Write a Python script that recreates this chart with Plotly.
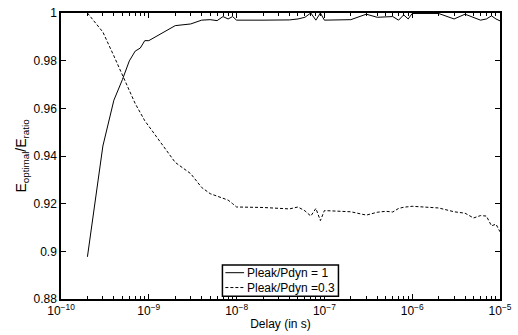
import plotly.graph_objects as go

# Delay values (s)
delay = [2e-10, 3e-10, 4e-10, 5e-10, 6e-10, 7e-10, 8e-10, 9e-10,
         1e-9, 2e-9, 3e-9, 4e-9, 5e-9, 6e-9, 7e-9, 8e-9, 9e-9,
         1e-8, 2e-8, 3e-8, 4e-8, 5e-8, 6e-8, 7e-8, 8e-8, 9e-8,
         1e-7, 2e-7, 3e-7, 4e-7, 5e-7, 6e-7, 7e-7, 8e-7, 9e-7,
         1e-6, 2e-6, 3e-6, 4e-6, 5e-6, 6e-6, 7e-6, 8e-6, 9e-6, 1e-5]

# Pleak/Pdyn = 1
ratio_1 = [0.8977, 0.9442, 0.9634, 0.9720, 0.9799, 0.9840, 0.9853, 0.9884,
           0.9884, 0.9947, 0.9954, 0.9970, 0.9972, 0.9968, 0.9985, 0.9975, 0.9985,
           0.9970, 0.9970, 0.9970, 0.9971, 0.9975, 0.9982, 1.0000, 0.9970, 1.0000,
           0.9970, 0.9972, 0.9995, 0.9982, 0.9982, 0.9985, 0.9970, 0.9992, 0.9975,
           0.9998, 0.9998, 0.9975, 0.9995, 0.9982, 0.9970, 0.9975, 0.9988, 0.9975, 0.9967]

# Pleak/Pdyn = 0.3
ratio_03 = [1.0000, 0.9920, 0.9820, 0.9737, 0.9675, 0.9620, 0.9580, 0.9548,
            0.9525, 0.9373, 0.9326, 0.9268, 0.9242, 0.9231, 0.9223, 0.9215, 0.9200,
            0.9186, 0.9184, 0.9182, 0.9178, 0.9186, 0.9170, 0.9148, 0.9180, 0.9129,
            0.9171, 0.9166, 0.9152, 0.9164, 0.9168, 0.9165, 0.9180, 0.9185, 0.9187,
            0.9189, 0.9182, 0.9166, 0.9160, 0.9140, 0.9150, 0.9148, 0.9107, 0.9114, 0.9082]

series_names = ["Pleak/Pdyn = 1", "Pleak/Pdyn =0.3"]

y_ticks = [0.88, 0.9, 0.92, 0.94, 0.96, 0.98, 1.0]
y_ticklabels = ["0.88", "0.9", "0.92", "0.94", "0.96", "0.98", "1"]

x_ticks = [1e-10, 1e-9, 1e-8, 1e-7, 1e-6, 1e-5]
x_ticklabels = ["10<sup>−10</sup>", "10<sup>−9</sup>", "10<sup>−8</sup>",
                "10<sup>−7</sup>", "10<sup>−6</sup>", "10<sup>−5</sup>"]

font_family = "Liberation Sans, Arial, sans-serif"
dash_style = "3px,2px"

fig = go.Figure()
fig.add_trace(go.Scatter(x=delay, y=ratio_1, mode="lines", name=series_names[0],
                         line=dict(color="black", width=1)))
fig.add_trace(go.Scatter(x=delay, y=ratio_03, mode="lines", name=series_names[1],
                         line=dict(color="black", width=1, dash=dash_style)))

# Manual compact legend (MATLAB style)
lx0, lx1, ly0, ly1 = 0.3677, 0.632, 0.010, 0.119
fig.add_shape(type="rect", xref="paper", yref="paper", x0=lx0, x1=lx1, y0=ly0, y1=ly1,
              line=dict(color="black", width=1.5), fillcolor="white", layer="above")
rows_y = [0.092, 0.040]
for name, ry, dash in zip(series_names, rows_y, ["solid", dash_style]):
    fig.add_shape(type="line", xref="paper", yref="paper", x0=0.3744, x1=0.417, y0=ry, y1=ry,
                  line=dict(color="black", width=1, dash=dash), layer="above")
    fig.add_annotation(xref="paper", yref="paper", x=0.4193, y=ry, text=name,
                       showarrow=False, xanchor="left", yanchor="middle",
                       font=dict(size=12, color="black"))

fig.update_layout(
    width=518, height=335,
    margin=dict(l=61, r=11, t=6, b=36),
    paper_bgcolor="white", plot_bgcolor="white",
    font=dict(family=font_family, size=12, color="black"),
    showlegend=False,
    xaxis=dict(type="log", range=[-10, -5], tickvals=x_ticks, ticktext=x_ticklabels,
               ticklabeloverflow="allow",
               showgrid=False, zeroline=False,
               showline=True, linecolor="black", linewidth=1.5, mirror="ticks",
               ticks="inside", ticklen=5, tickcolor="black",
               minor=dict(ticks="inside", ticklen=3, dtick="D1", tickcolor="black", showgrid=False),
               tickfont=dict(size=12),
               title=dict(text="Delay (in s)", font=dict(size=12), standoff=2)),
    yaxis=dict(range=[0.88, 1.0], tickvals=y_ticks, ticktext=y_ticklabels,
               showgrid=False, zeroline=False,
               showline=True, linecolor="black", linewidth=1.5, mirror="ticks",
               ticks="inside", ticklen=5, tickcolor="black",
               tickfont=dict(size=12),
               title=dict(text="E<sub>optimal</sub>/E<sub>ratio</sub>", font=dict(size=14), standoff=4)),
)

fig.write_html("out.html")
